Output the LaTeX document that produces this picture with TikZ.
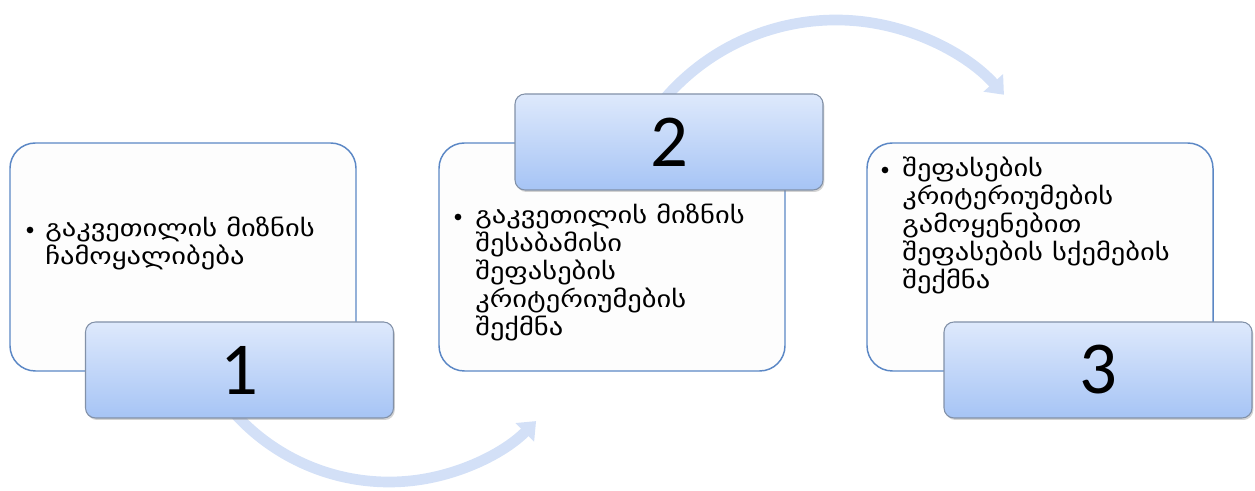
\documentclass[tikz,border=0pt]{standalone}
\usepackage{fontspec}
\setmainfont{Carlito}
\newfontfamily\geo[FakeStretch=1.22]{DejaVu Sans}
\usetikzlibrary{arrows.meta,shadows}
\definecolor{panelborder}{RGB}{91,135,197}
\definecolor{panelfill}{RGB}{253,253,253}
\definecolor{labtop}{RGB}{222,233,252}
\definecolor{labbot}{RGB}{166,196,245}
\definecolor{labborder}{RGB}{130,145,168}
\definecolor{arrowcol}{RGB}{211,224,247}
\begin{document}
\begin{tikzpicture}[x=0.75pt,y=0.75pt,
 panel/.style={draw=panelborder, line width=1.1pt, fill=panelfill, rounded corners=19pt, minimum width=259.5pt, minimum height=171pt, inner sep=0pt},
 labelbox/.style={draw=labborder, line width=0.8pt, top color=labtop, bottom color=labbot, rounded corners=7.5pt, minimum width=231pt, minimum height=72pt, inner sep=0pt, font=\fontsize{56}{60}\selectfont, drop shadow={opacity=0.35,shadow xshift=1pt,shadow yshift=-1.5pt}},
 band/.style={draw=arrowcol, line width=8pt, -{Triangle[width=19pt,length=12pt]}},
 geotext/.style={font=\geo\fontsize{17.5}{21}\selectfont, align=left, anchor=north west, inner sep=0pt},
 dot/.style={circle, fill=black, inner sep=0pt, minimum size=5pt}]
\useasboundingbox (0,0) rectangle (1255,491);
% panels
\node[panel] (p1) at (183,234) {};
\node[panel] (p2) at (612,234) {};
\node[panel] (p3) at (1040,234) {};
% arcs
\coordinate (c1) at (389,217);
\coordinate (c2) at (836,245);
\draw[band] (c1) ++(220:208) arc[start angle=220,end angle=315,radius=208];
\draw[band] (c2) ++(140:226) arc[start angle=140,end angle=42,radius=226];
% labels
\node[labelbox] (lab1) at (239.5,121) {1};
\node[labelbox] (lab2) at (669,349) {2};
\node[labelbox] (lab3) at (1098,121) {3};
% texts
\node[dot] (b1) at (30,261) {};
\node[geotext] (t1) at (45,274.6) {\strut გაკვეთილის მიზნის\\ჩამოყალიბება};
\node[dot] (b2) at (458,274) {};
\node[geotext] (t2) at (475,287.6) {\strut გაკვეთილის მიზნის\\შესაბამისი\\შეფასების\\კრიტერიუმების\\შექმნა};
\node[dot] (b3) at (885,321) {};
\node[geotext] (t3) at (902,334.6) {\strut შეფასების\\კრიტერიუმების\\გამოყენებით\\შეფასების სქემების\\შექმნა};
\end{tikzpicture}
\end{document}
